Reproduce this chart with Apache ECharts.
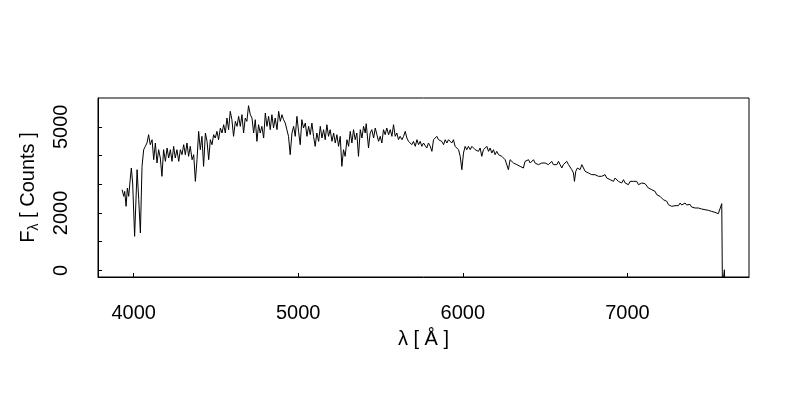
<!DOCTYPE html>
<html>
<head>
<meta charset="utf-8">
<script src="https://cdn.jsdelivr.net/npm/echarts@6/dist/echarts.min.js"></script>
<style>
html,body{margin:0;padding:0;background:#fff;}
#chart{width:800px;height:400px;}
</style>
</head>
<body>
<div id="chart"></div>
<script>
// Wavelength (Å)
const lambda = [3930,3940,3946,3954,3962,3970,3980,3986,3994,4006,4021,4031,4041,4051,4061,4071,4081,4091,4101,4112,4122,4132,4142,4152,4162,4172,4182,4193,4203,4213,4223,4233,4243,4253,4263,4274,4284,4294,4304,4314,4324,4334,4344,4355,4365,4375,4385,4395,4405,4415,4425,4436,4446,4456,4466,4476,4486,4496,4506,4516,4527,4537,4547,4557,4567,4577,4587,4597,4607,4618,4628,4638,4648,4658,4668,4678,4688,4698,4709,4719,4729,4739,4749,4759,4769,4779,4790,4800,4810,4820,4830,4840,4850,4860,4871,4881,4891,4901,4911,4921,4931,4941,4951,4962,4972,4982,4992,5002,5012,5022,5032,5043,5053,5063,5073,5083,5093,5103,5113,5124,5134,5144,5154,5164,5174,5184,5194,5205,5215,5225,5235,5245,5255,5265,5275,5285,5296,5306,5316,5326,5336,5346,5356,5366,5377,5387,5397,5407,5413,5427,5437,5447,5458,5468,5478,5488,5498,5508,5518,5528,5538,5549,5559,5569,5579,5589,5599,5609,5619,5630,5640,5650,5660,5670,5680,5690,5700,5711,5721,5731,5741,5751,5761,5771,5781,5791,5802,5812,5822,5832,5842,5852,5862,5872,5883,5893,5903,5913,5923,5933,5943,5953,5964,5974,5984,5994,6004,6014,6024,6034,6045,6055,6065,6075,6085,6095,6105,6115,6125,6136,6146,6156,6166,6176,6186,6196,6206,6217,6227,6237,6247,6257,6267,6277,6287,6298,6308,6318,6328,6338,6348,6358,6368,6378,6389,6399,6409,6419,6429,6439,6449,6459,6470,6480,6490,6500,6510,6520,6530,6540,6550,6561,6571,6581,6591,6601,6611,6621,6631,6642,6652,6662,6672,6678,6686,6696,6702,6712,6723,6733,6743,6753,6763,6773,6783,6793,6803,6814,6824,6834,6844,6854,6864,6874,6884,6895,6905,6915,6925,6935,6945,6955,6965,6976,6986,6996,7006,7016,7026,7036,7046,7056,7067,7077,7087,7097,7107,7117,7127,7137,7148,7158,7168,7178,7188,7198,7208,7218,7229,7239,7249,7259,7269,7279,7289,7299,7310,7320,7330,7340,7350,7360,7370,7380,7390,7401,7411,7421,7431,7441,7451,7461,7471,7482,7492,7502,7512,7522,7532,7542,7552,7562,7573,7577,7586,7589,7592];
// Flux (counts)
const flux = [2811,2579,2753,2231,2870,2579,3218,3566,3044,1186,3508,2463,1302,3624,4205,4321,4437,4728,4379,4553,3857,4437,3741,4205,3915,3276,4205,3799,4263,3915,4205,3799,4321,3915,4205,3799,4205,4031,4379,4031,4437,3973,4321,3857,4031,3102,3857,4844,4205,4670,3624,4786,4495,3857,4553,4379,4728,4612,4844,4553,4960,4786,5076,4786,5308,4902,5541,5250,4670,5192,5018,5366,5018,5424,4786,5308,5192,5738,5424,5308,4786,5250,4495,5076,4786,5018,4612,5482,5018,5366,4902,5424,4960,5308,4902,5541,5192,5424,5250,5134,4902,4670,4031,4786,5018,4670,5366,4844,4379,5250,4960,5134,4670,5018,4728,5134,4670,4321,4786,4495,5018,4612,4902,4553,5076,4670,4902,4496,4786,4438,4728,4322,4670,3625,4205,3973,4554,4322,4844,4438,4902,4554,4786,3973,4902,4612,5018,4786,5111,4264,4786,4902,4612,4960,4728,4496,4670,4438,4902,4728,4960,4728,4902,4670,5076,4670,4786,4554,4670,4554,4670,4844,4612,4496,4554,4380,4496,4322,4554,4380,4496,4322,4438,4380,4264,4438,4322,4147,4554,4554,4669,4553,4611,4495,4379,4553,4437,4553,4611,4437,4553,4321,4379,4205,3973,3508,4089,4321,4205,4321,4205,4321,4263,4205,4263,4147,4263,3973,4205,4147,4321,4147,4263,4089,4205,4031,4147,4031,4089,3973,4031,3856,3798,3508,3856,3798,3740,3798,3682,3740,3624,3682,3566,3798,3740,3856,3740,3798,3856,3740,3798,3682,3624,3741,3799,3741,3799,3683,3741,3799,3683,3741,3683,3799,3683,3567,3683,3741,3799,3683,3625,3509,3393,3102,3451,3567,3625,3509,3683,3625,3451,3509,3393,3451,3335,3393,3335,3393,3277,3335,3277,3219,3335,3219,3277,3160,3219,3102,3219,3160,3102,3160,3044,3160,3044,3102,2986,3102,3044,3102,3044,3102,2986,3044,3044,2986,3020,2985,2869,2927,2811,2869,2753,2637,2695,2579,2637,2463,2521,2405,2289,2347,2231,2289,2254,2323,2254,2347,2277,2300,2347,2277,2254,2300,2207,2254,2173,2231,2173,2231,2138,2173,2114,2161,2091,2138,2056,2114,2022,2056,1975,2022,2323,-600,-600,20,-600];
// Axis ticks and labels
const xTicks = [4000, 5000, 6000, 7000];
const xLabels = [4000, 5000, 6000, 7000];
const yTicks = [0, 1000, 2000, 3000, 4000, 5000];
const yLabels = [0, 2000, 5000];

const font = 'Liberation Sans, Arial, Helvetica, sans-serif';
const plain = v => String(v);
const chart = echarts.init(document.getElementById('chart'), null, {renderer: 'canvas'});
chart.setOption({
  animation: false,
  backgroundColor: '#fff',
  grid: {
    left: 98, top: 98, right: 51, bottom: 123,
    show: true, borderColor: '#000', borderWidth: 1, backgroundColor: 'transparent',
    containLabel: false, outerBoundsMode: 'none'
  },
  xAxis: {
    type: 'value',
    min: 3783.5, max: 7738.5,
    axisLine: {show: true, onZero: false, lineStyle: {color: '#000', width: 1}},
    axisTick: {show: true, inside: true, length: 4, customValues: xTicks, lineStyle: {color: '#000', width: 1}},
    axisLabel: {show: true, customValues: xLabels, formatter: plain, color: '#000', fontSize: 20, fontFamily: font, margin: 26, showMinLabel: true, showMaxLabel: true},
    splitLine: {show: false},
    name: 'λ [ Å ]',
    nameLocation: 'middle',
    nameGap: 52,
    nameTextStyle: {color: '#000', fontSize: 20, fontFamily: font}
  },
  yAxis: {
    type: 'value',
    min: -231, max: 6006,
    axisLine: {show: true, onZero: false, lineStyle: {color: '#000', width: 1}},
    axisTick: {show: true, inside: true, length: 4, customValues: yTicks, lineStyle: {color: '#000', width: 1}},
    axisLabel: {show: true, customValues: yLabels, formatter: plain, rotate: 90, color: '#000', fontSize: 20, fontFamily: font, margin: 27},
    splitLine: {show: false},
    name: '{n|F}{s|λ}{n| [ Counts ]}',
    nameLocation: 'middle',
    nameGap: 57,
    nameRotate: 90,
    nameTextStyle: {
      color: '#000', fontSize: 20, fontFamily: font,
      rich: {
        n: {fontSize: 20, fontFamily: font, color: '#000', lineHeight: 26},
        s: {fontSize: 14, fontFamily: font, color: '#000', lineHeight: 14, verticalAlign: 'bottom'}
      }
    }
  },
  series: [{
    type: 'line',
    data: lambda.map((l, i) => [l, flux[i]]),
    showSymbol: false,
    symbol: 'none',
    clip: true,
    sampling: null,
    lineStyle: {color: '#000', width: 1},
    emphasis: {disabled: true}
  }]
});
</script>
</body>
</html>
